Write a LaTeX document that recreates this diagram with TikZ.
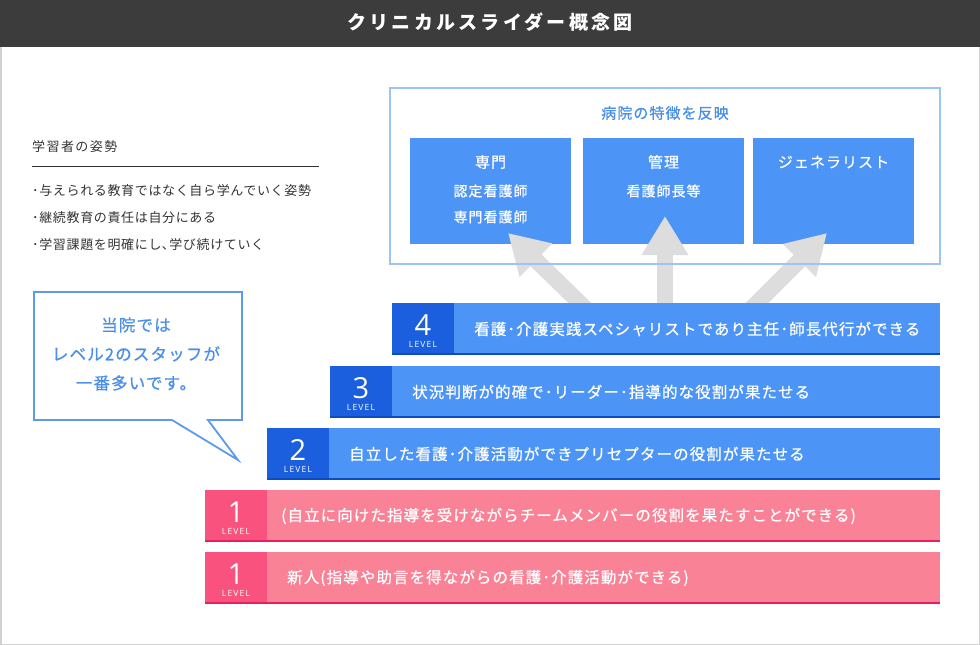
\documentclass[tikz,border=0pt]{standalone}
\usepackage{fontspec}
\setmainfont{Noto Sans CJK JP}
\newfontfamily\jp[LetterSpace=7, FakeBold=0.7]{Noto Sans CJK JP}
\newfontfamily\jptitle[LetterSpace=17]{Noto Sans CJK JP}
\newfontfamily\jpsmall[LetterSpace=5]{Noto Sans CJK JP}
\newfontfamily\jpwide[LetterSpace=11]{Noto Sans CJK JP}
\newfontfamily\lvfont{Open Sans}
\newfontfamily\lvsmall[LetterSpace=14]{Open Sans}
\usetikzlibrary{calc,arrows.meta,positioning}
\usepackage{xcolor}

\definecolor{titlebar}{HTML}{3C3C3C}
\definecolor{frameline}{HTML}{D2D2D2}
\definecolor{skyblue}{HTML}{4D94F7}
\definecolor{deepblue}{HTML}{1C5FDE}
\definecolor{lineblue}{HTML}{0B4EC2}
\definecolor{paleblue}{HTML}{9CC4F8}
\definecolor{textblue}{HTML}{4A8FE8}
\definecolor{softpink}{HTML}{FA8296}
\definecolor{hotpink}{HTML}{F9527F}
\definecolor{linepink}{HTML}{E62058}
\definecolor{arrowgray}{HTML}{DDDDDD}
\definecolor{inkgray}{HTML}{333333}

\tikzset{
  bluebar/.style={fill=skyblue, inner sep=0pt, outer sep=0pt, minimum height=52pt, anchor=north west},
  pinkbar/.style={fill=softpink, inner sep=0pt, outer sep=0pt, minimum height=52pt, anchor=north west},
  bluelab/.style={fill=deepblue, inner sep=0pt, outer sep=0pt, minimum width=62pt, minimum height=52pt, anchor=north west},
  pinklab/.style={fill=hotpink, inner sep=0pt, outer sep=0pt, minimum width=62pt, minimum height=52pt, anchor=north west},
  numtxt/.style={text=white, font=\lvfont\fontsize{29}{29}\selectfont, inner sep=0pt},
  lvtxt/.style={text=white, font=\lvsmall\fontsize{8.5}{9}\selectfont, inner sep=0pt},
  bartxt/.style={text=white, font=\jp\fontsize{15.5}{16}\selectfont, inner sep=0pt, anchor=west},
  rolebox/.style={fill=skyblue, inner sep=0pt, outer sep=0pt, minimum width=161pt, minimum height=106pt, anchor=north west},
  rolehead/.style={text=white, font=\jp\fontsize{15}{16}\selectfont, inner sep=0pt},
  rolesub/.style={text=white, font=\jp\fontsize{14}{15}\selectfont, inner sep=0pt},
  bigarrow/.style={draw=arrowgray, line width=16pt, -{Triangle[width=44pt 0 0, length=39pt 0 0]}},
  note/.style={text=inkgray, font=\jpsmall\fontsize{13}{14}\selectfont, inner sep=0pt, anchor=west}
}

\begin{document}
\begin{tikzpicture}[x=1pt, y=-1pt]
\useasboundingbox (0,0) rectangle (980,645);

% title bar
\fill[titlebar] (0,0) rectangle (980,47);
\node[text=white, font=\jptitle\bfseries\fontsize{19}{20}\selectfont] (title) at (490,22) {クリニカルスライダー概念図};
\draw[frameline, line width=1.5pt] (0.75,47) -- (0.75,644.25) -- (979.25,644.25) -- (979.25,47);

% learner's attitude
\node[note, font=\jpwide\fontsize{13}{14}\selectfont] (attitude) at (32,147) {学習者の姿勢};
\draw[inkgray, line width=0.8pt] (32,166) -- (319,166);
\node[note] (att1) at (32,191) {･与えられる教育ではなく自ら学んでいく姿勢};
\node[note] (att2) at (32,218) {･継続教育の責任は自分にある};
\node[note] (att3) at (32,245) {･学習課題を明確にし､学び続けていく};

% roles
\node[rolebox] (spec) at (410,138) {};
\node[rolebox] (mgmt) at (583,138) {};
\node[rolebox] (gen) at (753,138) {};
\node[rolehead] at ($(spec.north)+(0,24)$) {専門};
\node[rolesub] at ($(spec.north)+(0,53)$) {認定看護師};
\node[rolesub] at ($(spec.north)+(0,79)$) {専門看護師};
\node[rolehead] at ($(mgmt.north)+(0,24)$) {管理};
\node[rolesub] at ($(mgmt.north)+(0,53)$) {看護師長等};
\node[rolehead] at ($(gen.north)+(0,24)$) {ジェネラリスト};

% arrows up from level 4
\coordinate (fromL) at (588,311);
\coordinate (fromM) at (665,311);
\coordinate (fromR) at (749,311);
\coordinate (toL) at (508,233);
\coordinate (toM) at (665,216);
\coordinate (toR) at (827,233);
\draw[bigarrow] (fromL) -- (toL);
\draw[bigarrow] (fromM) -- (toM);
\draw[bigarrow] (fromR) -- (toR);

\draw[paleblue, line width=1.5pt] (390,88) rectangle (940,264);
\node[text=textblue, font=\jp\fontsize{15}{16}\selectfont] (hosp) at (665,113) {病院の特徴を反映};

% speech bubble
\draw[textblue!90, fill=white, line width=1.8pt, line join=miter] (34,292) -- (242,292) -- (242,420) -- (208,420) -- (238,460) -- (172,420) -- (34,420) -- cycle;
\node[text=textblue, font=\jp\fontsize{16.5}{29}\selectfont, align=center] (bubble) at (136,354) {当院では\\レベル2のスタッフが\\一番多いです。};

% level 4
\node[bluebar, minimum width=548pt] (lv4) at (392,303) {};
\node[bluelab] (lv4lab) at (lv4.north west) {};
\draw[lineblue, line width=2.5pt] ([yshift=1.25pt]lv4.south west) -- ([yshift=1.25pt]lv4.south east);
\node[numtxt] at ($(lv4lab.north)+(0,22)$) {4};
\node[lvtxt] at ($(lv4lab.north)+(0,41)$) {LEVEL};
\node[bartxt, right=20pt of lv4lab] {看護･介護実践スペシャリストであり主任･師長代行ができる};

% level 3
\node[bluebar, minimum width=610pt] (lv3) at (330,366) {};
\node[bluelab] (lv3lab) at (lv3.north west) {};
\draw[lineblue, line width=2.5pt] ([yshift=1.25pt]lv3.south west) -- ([yshift=1.25pt]lv3.south east);
\node[numtxt] at ($(lv3lab.north)+(0,22)$) {3};
\node[lvtxt] at ($(lv3lab.north)+(0,41)$) {LEVEL};
\node[bartxt, right=20pt of lv3lab] {状況判断が的確で･リーダー･指導的な役割が果たせる};

% level 2
\node[bluebar, minimum width=673pt] (lv2) at (267,428) {};
\node[bluelab] (lv2lab) at (lv2.north west) {};
\draw[lineblue, line width=2.5pt] ([yshift=1.25pt]lv2.south west) -- ([yshift=1.25pt]lv2.south east);
\node[numtxt] at ($(lv2lab.north)+(0,22)$) {2};
\node[lvtxt] at ($(lv2lab.north)+(0,41)$) {LEVEL};
\node[bartxt, right=20pt of lv2lab] {自立した看護･介護活動ができプリセプターの役割が果たせる};

% level 1
\node[pinkbar, minimum width=735pt] (lv1a) at (205,490) {};
\node[pinklab] (lv1alab) at (lv1a.north west) {};
\draw[linepink, line width=2.5pt] ([yshift=1.25pt]lv1a.south west) -- ([yshift=1.25pt]lv1a.south east);
\node[numtxt] at ($(lv1alab.north)+(0,22)$) {1};
\node[lvtxt] at ($(lv1alab.north)+(0,41)$) {LEVEL};
\node[bartxt, right=14pt of lv1alab] {(自立に向けた指導を受けながらチームメンバーの役割を果たすことができる)};

\node[pinkbar, minimum width=735pt] (lv1b) at (205,552) {};
\node[pinklab] (lv1blab) at (lv1b.north west) {};
\draw[linepink, line width=2.5pt] ([yshift=1.25pt]lv1b.south west) -- ([yshift=1.25pt]lv1b.south east);
\node[numtxt] at ($(lv1blab.north)+(0,22)$) {1};
\node[lvtxt] at ($(lv1blab.north)+(0,41)$) {LEVEL};
\node[bartxt, right=20pt of lv1blab] {新人(指導や助言を得ながらの看護･介護活動ができる)};
\end{tikzpicture}
\end{document}
